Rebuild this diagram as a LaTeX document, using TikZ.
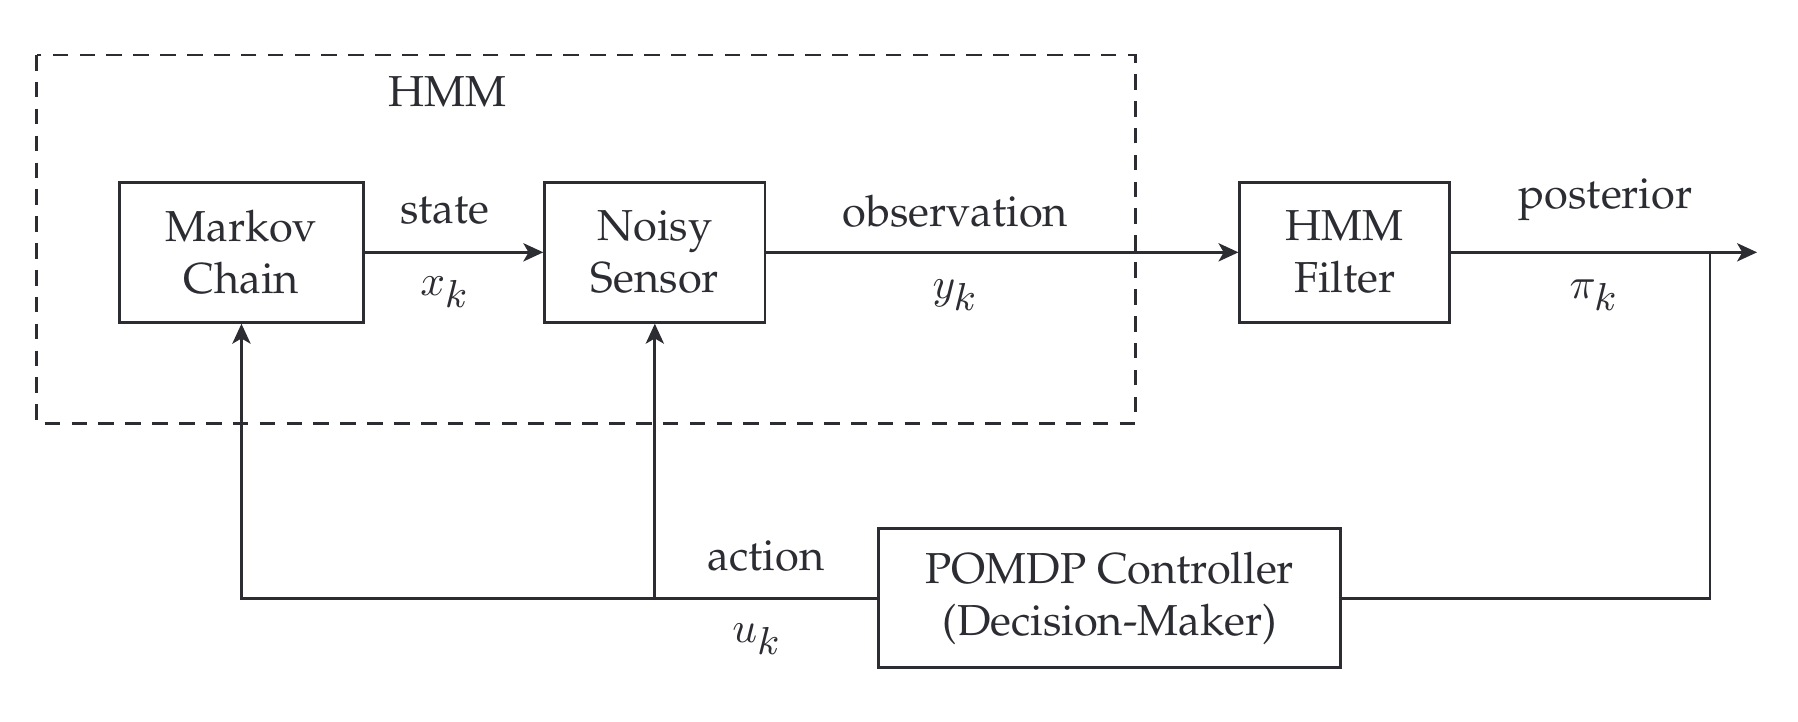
\documentclass[tikz,border=0pt]{standalone}
\usepackage[T1]{fontenc}
\renewcommand{\rmdefault}{ppl}
\usepackage{amsmath}
\DeclareMathSizes{10}{10}{8.8}{7}
\usetikzlibrary{arrows.meta}
\definecolor{ink}{HTML}{2B2D33}

\begin{document}
\begin{tikzpicture}[
    color=ink, line width=0.65pt,
    block/.style={draw, align=center, inner sep=0pt},
    arr/.style={-{Stealth[length=4.6pt,width=4.2pt,inset=1.2pt]}}
  ]
    \useasboundingbox (0,0) rectangle (14.58,-5.85);

    % HMM part
    \draw[dash pattern=on 3.6pt off 2.6pt] (0.298,-0.446) rectangle (9.207,-3.432);
    \node (hmmlabel) at (3.627,-0.744) {HMM};

    \node[block, minimum width=1.98cm, minimum height=1.135cm] (chain) at (1.958,-2.046) {Markov\\Chain};
    \node[block, minimum width=1.786cm, minimum height=1.135cm] (sensor) at (5.31,-2.046) {Noisy\\Sensor};
    \node[block, minimum width=1.70cm, minimum height=1.135cm] (filter) at (10.904,-2.046) {HMM\\Filter};
    \node[block, minimum width=3.748cm, minimum height=1.125cm] (ctrl) at (8.998,-4.85) {POMDP Controller\\(Decision-Maker)};

    \coordinate (out) at (14.248,-2.046);
    \coordinate (tap) at (13.866,-2.046);
    \coordinate (split) at (sensor.south |- ctrl.west);

    % forward path
    \draw[arr] (chain.east) -- (sensor.west);
    \draw[arr] (sensor.east) -- (filter.west);
    \draw[arr] (filter.east) -- (out);

    % feedback path
    \draw (tap) |- (ctrl.east);
    \draw[arr] (ctrl.west) -| (chain.south);
    \draw[arr] (split) -- (sensor.south);

    % signal labels
    \node (lstate) at (3.608,-1.711) {state};
    \node (lx) at (3.608,-2.372) {$x_k$};
    \node (lobs) at (7.747,-1.711) {observation};
    \node (ly) at (7.747,-2.39) {$y_k$};
    \node (lpost) at (13.02,-1.618) {posterior};
    \node (lpi) at (12.927,-2.39) {$\pi_k$};
    \node (lact) at (6.212,-4.51) {action};
    \node (lu) at (6.138,-5.18) {$u_k$};
\end{tikzpicture}
\end{document}
